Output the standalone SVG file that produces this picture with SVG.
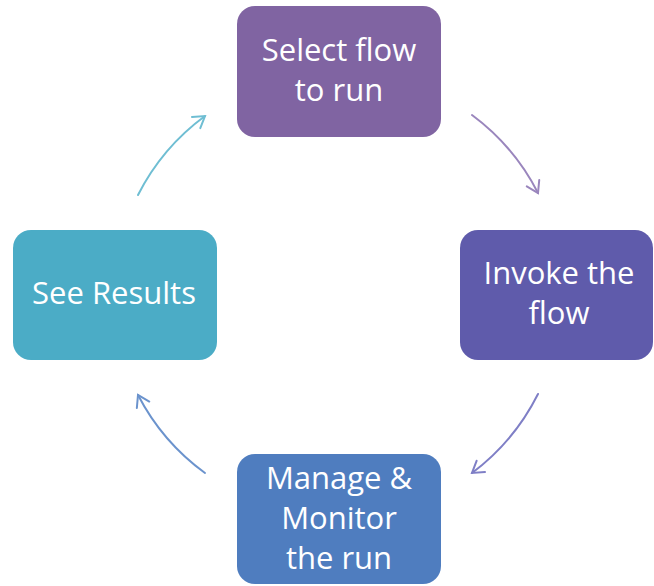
<svg xmlns="http://www.w3.org/2000/svg" width="654" height="586" viewBox="0 0 654 586">
<style>
.lbl{font-family:"Open Sans","Liberation Sans",sans-serif;font-size:31px;fill:#ffffff;text-anchor:middle}
.arc{fill:none;stroke-width:2;stroke-linecap:round}
</style>
<defs>
<marker id="m1" markerUnits="userSpaceOnUse" markerWidth="30" markerHeight="30" viewBox="-15 -15 30 30" refX="0" refY="0" orient="auto"><path d="M-11,-7 L0,0 L-11,7" fill="none" stroke="#6FBED3" stroke-width="2" stroke-linecap="round"/></marker>
<marker id="m2" markerUnits="userSpaceOnUse" markerWidth="30" markerHeight="30" viewBox="-15 -15 30 30" refX="0" refY="0" orient="auto"><path d="M-11,-7 L0,0 L-11,7" fill="none" stroke="#9A86BD" stroke-width="2" stroke-linecap="round"/></marker>
<marker id="m3" markerUnits="userSpaceOnUse" markerWidth="30" markerHeight="30" viewBox="-15 -15 30 30" refX="0" refY="0" orient="auto"><path d="M-11,-7 L0,0 L-11,7" fill="none" stroke="#7F7FC6" stroke-width="2" stroke-linecap="round"/></marker>
<marker id="m4" markerUnits="userSpaceOnUse" markerWidth="30" markerHeight="30" viewBox="-15 -15 30 30" refX="0" refY="0" orient="auto"><path d="M-11,-7 L0,0 L-11,7" fill="none" stroke="#6B93CD" stroke-width="2" stroke-linecap="round"/></marker>
</defs>
<g id="connectors">
<path class="arc" d="M138,195 A224,224 0 0 1 205,116" stroke="#6FBED3" marker-end="url(#m1)"/>
<path class="arc" d="M472,115 A224,224 0 0 1 538,193" stroke="#9A86BD" marker-end="url(#m2)"/>
<path class="arc" d="M538,394 A224,224 0 0 1 472,473" stroke="#7F7FC6" marker-end="url(#m3)"/>
<path class="arc" d="M205,473 A224,224 0 0 1 138,395" stroke="#6B93CD" marker-end="url(#m4)"/>
</g>
<g id="select">
<rect x="237" y="6" width="204" height="131" rx="18" fill="#8064A2"/>
<text class="lbl" x="339" y="61">Select flow</text>
<text class="lbl" x="339" y="101">to run</text>
</g>
<g id="invoke">
<rect x="460" y="230" width="193" height="130" rx="18" fill="#5F5BAB"/>
<text class="lbl" x="559" y="284">Invoke the</text>
<text class="lbl" x="559" y="324">flow</text>
</g>
<g id="manage">
<rect x="237" y="454" width="204" height="130" rx="18" fill="#4F7DBF"/>
<text class="lbl" x="339" y="489">Manage &amp;</text>
<text class="lbl" x="339" y="529">Monitor</text>
<text class="lbl" x="339" y="569">the run</text>
</g>
<g id="results">
<rect x="13" y="230" width="204" height="130" rx="18" fill="#4BACC6"/>
<text class="lbl" x="114" y="304">See Results</text>
</g>
</svg>
